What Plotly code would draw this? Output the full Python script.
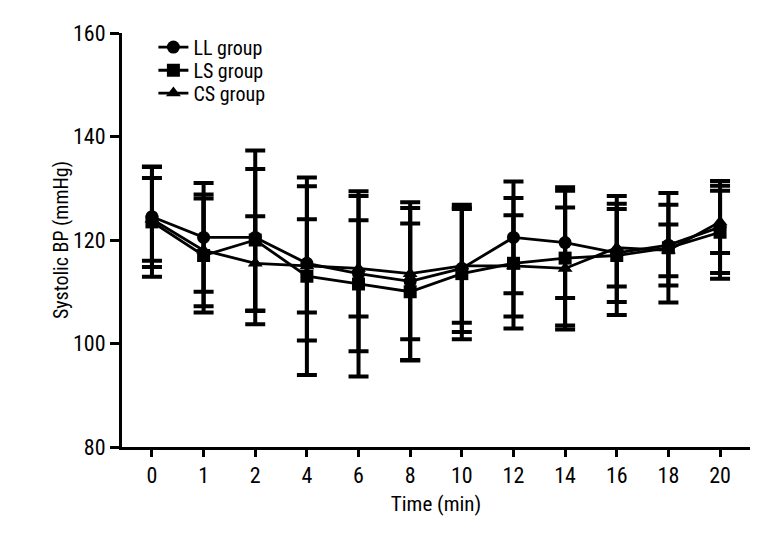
import plotly.graph_objects as go

time_labels = ["0", "1", "2", "4", "6", "8", "10", "12", "14", "16", "18", "20"]

ll_mean = [124.5, 120.5, 120.5, 115.5, 113.5, 112.0, 114.5, 120.5, 119.5, 117.5, 119.0, 122.5]
ll_sd = [9.7, 10.5, 16.8, 14.9, 15.0, 15.3, 12.3, 10.8, 10.7, 9.5, 7.8, 8.9]

ls_mean = [123.5, 117.0, 120.0, 113.0, 111.5, 110.0, 113.5, 115.5, 116.5, 117.0, 118.5, 121.5]
ls_sd = [10.6, 11.0, 13.7, 19.1, 17.9, 13.2, 12.7, 12.6, 13.0, 11.5, 10.6, 9.0]

cs_mean = [124.0, 118.0, 115.5, 115.0, 114.5, 113.5, 115.0, 115.0, 114.5, 118.5, 118.0, 123.5]
cs_sd = [8.0, 10.8, 9.1, 9.0, 9.3, 12.7, 11.0, 9.8, 11.8, 7.5, 5.0, 6.0]

FONT = "Roboto Condensed, Liberation Sans Narrow, sans-serif"

series = [
    ("LL group", ll_mean, ll_sd, "circle", "legend", 0.966),
    ("LS group", ls_mean, ls_sd, "square", "legend2", 0.910),
    ("CS group", cs_mean, cs_sd, "triangle-up", "legend3", 0.855),
]

fig = go.Figure()
legends = {}
for name, m, s, sym, leg, ly in series:
    fig.add_trace(go.Scatter(
        x=time_labels, y=m, name=name, mode="lines+markers",
        line=dict(color="black", width=2.8),
        marker=dict(symbol=sym, size=13, color="black"),
        error_y=dict(type="data", array=s, visible=True, color="black",
                     thickness=4, width=10),
        legend=leg,
    ))
    legends[leg] = dict(x=0.05, y=ly, xanchor="left", yanchor="middle",
                        bgcolor="rgba(0,0,0,0)", font=dict(size=20),
                        itemwidth=30)

fig.update_layout(
    width=768, height=552,
    paper_bgcolor="white", plot_bgcolor="white",
    margin=dict(l=114, r=26, t=25, b=113),
    font=dict(family=FONT, color="black", size=19),
    showlegend=True,
    **legends,
)
fig.update_xaxes(
    type="category", range=[-0.58, 11.58],
    showline=True, linecolor="black", linewidth=3,
    ticks="outside", ticklen=7, tickwidth=3, tickcolor="black",
    showgrid=False, zeroline=False,
    tickfont=dict(size=22),
    title=dict(text="Time (min)", font=dict(size=21), standoff=9),
)
fig.update_yaxes(
    range=[80, 160], tickvals=[80, 100, 120, 140, 160],
    showline=True, linecolor="black", linewidth=3,
    ticks="outside", ticklen=9, tickwidth=3, tickcolor="black",
    showgrid=False, zeroline=False,
    tickfont=dict(size=22),
    title=dict(text="Systolic BP (mmHg)", font=dict(size=20), standoff=0),
)

fig.write_html("out.html")
